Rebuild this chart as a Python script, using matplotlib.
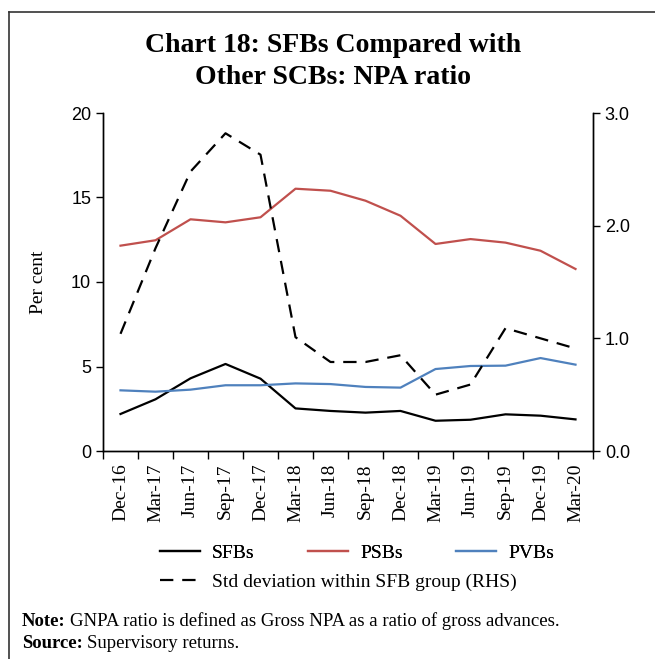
import numpy as np
import matplotlib
matplotlib.use("Agg")
import matplotlib.pyplot as plt
from matplotlib.lines import Line2D

# ===================== 数据 =====================
quarters = ["Dec-16", "Mar-17", "Jun-17", "Sep-17", "Dec-17", "Mar-18", "Jun-18",
            "Sep-18", "Dec-18", "Mar-19", "Jun-19", "Sep-19", "Dec-19", "Mar-20"]
sfbs = [2.19, 3.06, 4.30, 5.15, 4.28, 2.52, 2.37, 2.27, 2.37, 1.79, 1.85, 2.17, 2.09, 1.87]
psbs = [12.15, 12.47, 13.71, 13.53, 13.83, 15.52, 15.40, 14.81, 13.92, 12.25, 12.54, 12.33, 11.85, 10.77]
pvbs = [3.59, 3.51, 3.63, 3.89, 3.89, 4.00, 3.96, 3.79, 3.75, 4.85, 5.03, 5.05, 5.50, 5.11]
std_sfb = [1.04, 1.80, 2.48, 2.82, 2.63, 1.01, 0.79, 0.79, 0.85, 0.50, 0.59, 1.09, 1.00, 0.91]

FONT = "Liberation Serif"
TICK_FONT = "Liberation Sans"
RED = "#C0504D"
BLUE = "#4F81BD"

plt.rcParams['font.family'] = [FONT, 'DejaVu Serif']

fig = plt.figure(figsize=(6.55, 6.59), dpi=100)
ax = fig.add_axes([103 / 655, 1 - 451 / 659, 490 / 655, 338 / 659])
ax2 = ax.twinx()

x = np.arange(len(quarters))
l1, = ax.plot(x, sfbs, color="black", lw=1.6, label="SFBs")
l2, = ax.plot(x, psbs, color=RED, lw=1.6, label="PSBs")
l3, = ax.plot(x, pvbs, color=BLUE, lw=1.6, label="PVBs")
l4, = ax2.plot(x, std_sfb, color="black", lw=1.6, ls=(0, (6, 4)),
               label="Std deviation within SFB group (RHS)")

ax.set_xlim(-0.5, len(quarters) - 0.5)
ax.set_ylim(0, 20)
ax.set_yticks([0, 5, 10, 15, 20])
ax2.set_ylim(0, 3)
ax2.set_yticks([0, 1, 2, 3])
ax2.set_yticklabels(["0.0", "1.0", "2.0", "3.0"])

# 类别居中标签，刻度线在类别边界
ax.set_xticks(x)
ax.set_xticklabels(quarters, rotation=90, fontsize=14)
ax.set_xticks(np.arange(-0.5, len(quarters)), minor=True)
ax.tick_params(axis="x", which="major", length=0, pad=9)
ax.tick_params(axis="x", which="minor", length=6, direction="out", width=1)
ax.tick_params(axis="y", labelsize=13, length=5, width=1, direction="out")
ax2.tick_params(axis="y", labelsize=13, length=5, width=1, direction="out")
for lab in ax.get_yticklabels() + ax2.get_yticklabels():
    lab.set_family(TICK_FONT)

for a in (ax, ax2):
    a.spines["top"].set_visible(False)
    for s in ("left", "right", "bottom"):
        a.spines[s].set_linewidth(1)

ax.set_ylabel("Per cent", fontsize=14)
ax.yaxis.set_label_coords(-0.115, 0.5)

fig.text(333 / 655, 1 - 45 / 659, "Chart 18: SFBs Compared with", ha="center", va="center",
         fontsize=20, fontweight="bold")
fig.text(333 / 655, 1 - 77 / 659, "Other SCBs: NPA ratio", ha="center", va="center",
         fontsize=20, fontweight="bold")

# 图例
leg1 = fig.legend([l1, l2, l3], ["SFBs", "PSBs", "PVBs"], ncol=3, frameon=False,
                  loc="center left", bbox_to_anchor=(160 / 655, 1 - 553 / 659),
                  fontsize=14, handlelength=2.06, columnspacing=2.75, handletextpad=0.62,
                  borderpad=0, borderaxespad=0)
fig.legend([l4], ["Std deviation within SFB group (RHS)"], frameon=False,
           loc="center left", bbox_to_anchor=(160 / 655, 1 - 582 / 659),
           fontsize=14, handlelength=2.06, handletextpad=0.62,
           borderpad=0, borderaxespad=0)
fig.add_artist(leg1)

# 注释
renderer = fig.canvas.get_renderer()
for y_px, head, body in [(621, "Note:", "GNPA ratio is defined as Gross NPA as a ratio of gross advances."),
                         (644, "Source:", "Supervisory returns.")]:
    t = fig.text(22 / 655, 1 - y_px / 659, head, fontsize=13.5, fontweight="bold", va="center")
    bb = t.get_window_extent(renderer)
    fig.text((bb.x1 + 4) / fig.bbox.width, 1 - y_px / 659, body, fontsize=13.5, va="center")

# 外框
fig.add_artist(Line2D([9 / 655, 9 / 655], [0, 1 - 12 / 659], color="#333333", lw=1.2))
fig.add_artist(Line2D([9 / 655, 1], [1 - 12 / 659, 1 - 12 / 659], color="#333333", lw=1.2))

fig.savefig("out.png", dpi=100)
